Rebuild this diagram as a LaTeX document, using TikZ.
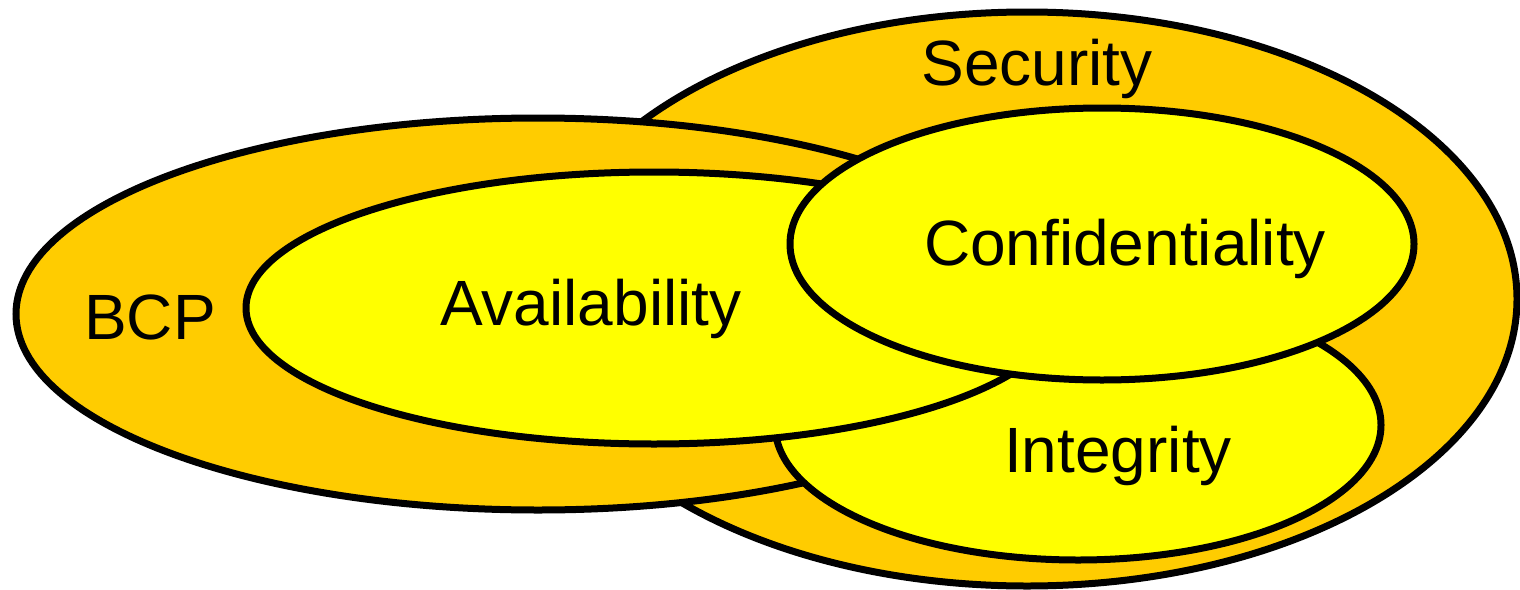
\documentclass[tikz,border=0pt]{standalone}
\usepackage{fontspec}
\setmainfont{Liberation Sans}
\usepackage{tikz}
\usepackage{xcolor}
\usetikzlibrary{shapes.geometric}

\definecolor{outer}{HTML}{FFCC00}
\definecolor{inner}{HTML}{FFFF00}

\begin{document}
\begin{tikzpicture}[x=1pt,y=-1pt,
  set/.style={ellipse,draw=black,line width=7pt,inner sep=0pt,outer sep=0pt},
  big/.style={set,fill=outer},
  small/.style={set,fill=inner},
  lbl/.style={anchor=base,inner sep=0pt,font=\fontsize{64}{64}\selectfont}]
  \useasboundingbox (0,0) rectangle (1520,589);
  \node[big,minimum width=980pt,minimum height=574pt] (sec) at (1027,299) {};
  \node[big,minimum width=1044pt,minimum height=392pt] (bcp) at (538,314) {};
  \node[small,minimum width=606pt,minimum height=270pt] (int) at (1078,425) {};
  \node[small,minimum width=816pt,minimum height=272pt] (avail) at (654,308) {};
  \node[small,minimum width=624pt,minimum height=272pt] (conf) at (1102,244) {};
  % labels
  \node[lbl] (sec_t) at (1037,85) {Security};
  \node[lbl] (bcp_t) at (150,339) {BCP};
  \node[lbl] (avail_t) at (591,325) {Availability};
  \node[lbl] (conf_t) at (1125,265) {Confidentiality};
  \node[lbl] (int_t) at (1118,472) {Integrity};
\end{tikzpicture}
\end{document}
